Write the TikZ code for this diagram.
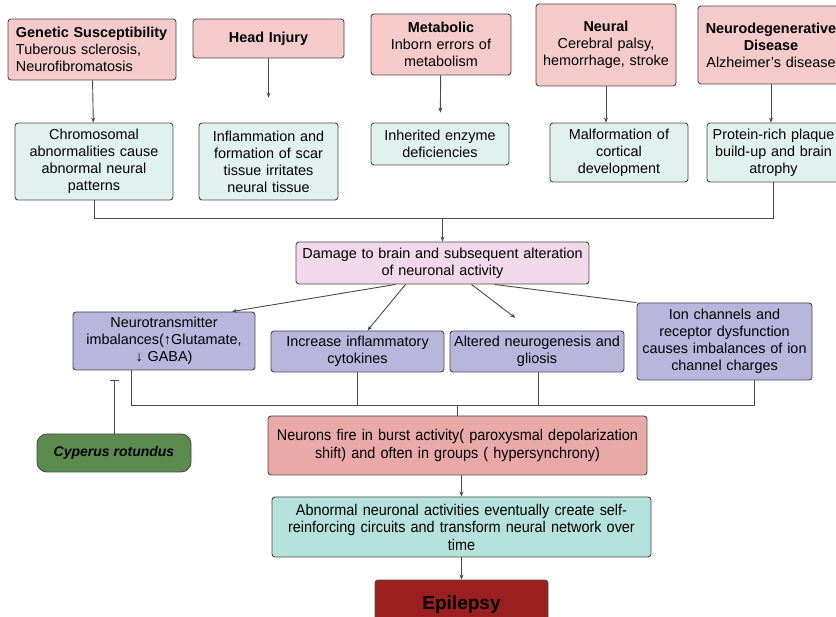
\documentclass[tikz,border=0pt]{standalone}
\usepackage{fontspec}
\setmainfont{Liberation Sans}
\newfontfamily\narrowfont[FakeStretch=0.93]{Liberation Sans}
\usepackage{xcolor}
\usetikzlibrary{positioning,calc,arrows.meta}

\definecolor{causered}{HTML}{F4CACA}
\definecolor{effectcyan}{HTML}{E1F1EE}
\definecolor{damagepink}{HTML}{F2D8EB}
\definecolor{mechpurple}{HTML}{B9B6DE}
\definecolor{burstred}{HTML}{EAA9A9}
\definecolor{circuitcyan}{HTML}{B6E2DE}
\definecolor{epired}{HTML}{9A1F1E}
\definecolor{herbgreen}{HTML}{5C8B4F}
\definecolor{edgegray}{HTML}{4A4A4A}

\tikzset{
    box/.style={draw=edgegray, line width=0.9pt, rounded corners=3pt, align=center,
                inner sep=2pt, font=\fontsize{14.4}{17}\selectfont},
    causebox/.style={box, fill=causered},
    effectbox/.style={box, fill=effectcyan},
    mechbox/.style={box, fill=mechpurple},
    flow/.style={draw=edgegray, line width=0.9pt},
    flowarrow/.style={flow, -{Stealth[length=5pt,width=4pt]}}
}

\begin{document}
\begin{tikzpicture}[x=1pt,y=-1pt]
    \clip (0,0) rectangle (836,617);

    % Causes
    \node[causebox, align=left, minimum width=168, minimum height=61, text width=152] (genetic) at (92,49.5)
        {\textbf{Genetic Susceptibility}\\Tuberous sclerosis,\\Neurofibromatosis};
    \node[causebox, minimum width=151, minimum height=39, text width=145] (head) at (268.5,38.5)
        {\textbf{Head Injury}};
    \node[causebox, minimum width=140, minimum height=61, text width=134] (metabolic) at (441,44.5)
        {\textbf{Metabolic}\\Inborn errors of\\metabolism};
    \node[causebox, minimum width=140, minimum height=82, text width=136] (neural) at (606,45)
        {\textbf{Neural}\\Cerebral palsy,\\hemorrhage, stroke};
    \node[causebox, minimum width=146, minimum height=78, text width=140] (neurodeg) at (771,45)
        {\textbf{Neurodegenerative}\\\textbf{Disease}\\Alzheimer's disease};

    % Direct effects
    \node[effectbox, minimum width=158, minimum height=77, text width=152] (chromo) at (94,161.5)
        {Chromosomal\\abnormalities cause\\abnormal neural\\patterns};
    \node[effectbox, minimum width=139, minimum height=77, text width=135] (scar) at (268.5,161.5)
        {Inflammation and\\formation of scar\\tissue irritates\\neural tissue};
    \node[effectbox, minimum width=138, minimum height=42, text width=134] (enzyme) at (440,144)
        {Inherited enzyme\\deficiencies};
    \node[effectbox, minimum width=138, minimum height=59, text width=134] (cortical) at (619,152.5)
        {Malformation of\\cortical\\development};
    \node[effectbox, minimum width=133, minimum height=59, text width=129] (plaque) at (773.5,152.5)
        {Protein-rich plaque\\build-up and brain\\atrophy};

    \draw[flowarrow] (genetic) -- (chromo);
    \draw[flowarrow, shorten >=25pt] (head) -- (scar);
    \draw[flowarrow, shorten >=10pt] (metabolic) -- (enzyme);
    \draw[flowarrow] (neural.south) -- (neural.south |- cortical.north);
    \draw[flowarrow] (neurodeg.south) -- (neurodeg.south |- plaque.north);

    % Converge
    \node[box, fill=damagepink, minimum width=293, minimum height=42, text width=289] (damage) at (442.5,263)
        {Damage to brain and subsequent alteration\\of neuronal activity};
    \draw[flow] (chromo.south) -- ++(0,18) coordinate (busleft) -| (plaque.south);
    \coordinate (busdown) at (busleft -| damage.north);
    \draw[flowarrow] (busdown) -- (damage.north);

    % Mechanisms
    \node[mechbox, minimum width=182, minimum height=58, text width=178] (transmit) at (164,341)
        {Neurotransmitter\\imbalances(↑Glutamate,\\↓ GABA)};
    \node[mechbox, minimum width=173, minimum height=41, text width=169] (cytokine) at (357.5,351.5)
        {Increase inflammatory\\cytokines};
    \node[mechbox, minimum width=172, minimum height=41, text width=170] (gliosis) at (537,351.5)
        {Altered neurogenesis and\\gliosis};
    \node[mechbox, minimum width=173, minimum height=77, text width=171] (ionchan) at (724.5,341.5)
        {Ion channels and\\receptor dysfunction\\causes imbalances of ion\\channel charges};

    \draw[flowarrow] ([xshift=-47pt]damage.south) -- ([xshift=68pt]transmit.north);
    \draw[flowarrow] ([xshift=-37pt]damage.south) -- ([xshift=10pt]cytokine.north);
    \draw[flowarrow, shorten >=21pt] ([xshift=29pt]damage.south) -- ([xshift=-5pt]gliosis.north);
    \draw[flow] ([xshift=52pt]damage.south) -- (ionchan.north west);

    % Burst and circuits
    \node[box, fill=burstred, minimum width=379, minimum height=59, text width=375,
          font=\narrowfont\fontsize{15.5}{17.5}\selectfont] (burst) at (457.5,445.5)
        {Neurons fire in burst activity( paroxysmal depolarization\\shift) and often in groups ( hypersynchrony)};
    \draw[flow] ([xshift=-33pt]transmit.south) -- ++(0,35) coordinate (busmid) -| ([xshift=30pt]ionchan.south);
    \draw[flow] (cytokine.south) -- (cytokine.south |- busmid);
    \draw[flow] ([xshift=1pt]gliosis.south) -- ([xshift=1pt]gliosis.south |- busmid);
    \draw[flow] (busmid -| burst.north) -- (burst.north);

    % Herbal inhibitor
    \node[box, fill=herbgreen, draw=black!70, rounded corners=10pt, minimum width=154, minimum height=38,
          font=\fontsize{14}{17}\selectfont\bfseries\itshape] (cyperus) at (114,453) {Cyperus rotundus};
    \draw[flow, -{Bar[width=9pt]}] (cyperus.north) -- ([yshift=-10pt]cyperus.north |- transmit.south);

    \node[box, fill=circuitcyan, minimum width=379, minimum height=60, text width=375,
          font=\narrowfont\fontsize{15.5}{17.5}\selectfont] (circuit) at (461.5,527)
        {Abnormal neuronal activities eventually create self-\\reinforcing circuits and transform neural network over\\time};
    \draw[flowarrow] (burst.south -| circuit.north) -- (circuit.north);

    \node[box, fill=epired, minimum width=173, minimum height=50,
          font=\fontsize{19}{22}\selectfont\bfseries] (epilepsy) at (461.5,605) {Epilepsy};
    \draw[flowarrow] (circuit.south) -- (epilepsy.north);

\end{tikzpicture}
\end{document}
